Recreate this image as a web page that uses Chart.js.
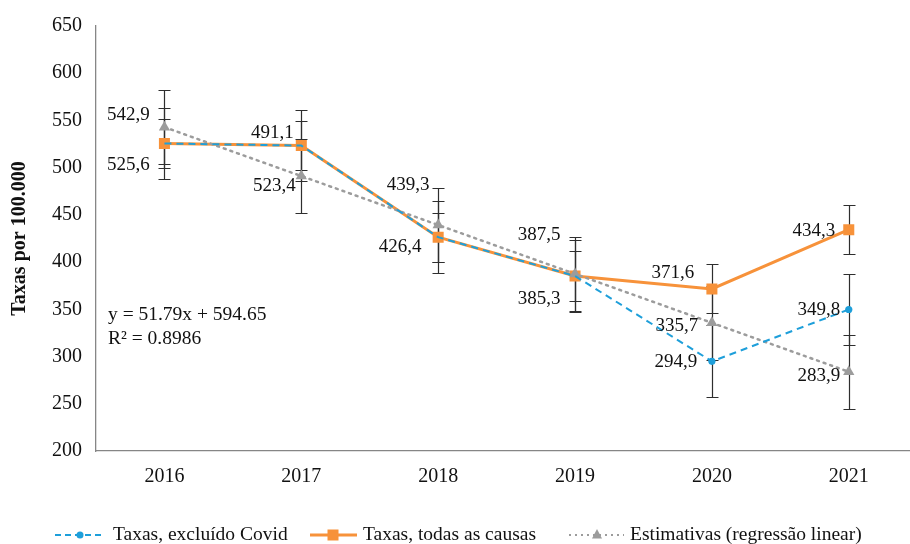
<!DOCTYPE html>
<html>
<head>
<meta charset="utf-8">
<script src="https://cdn.jsdelivr.net/npm/chart.js@4.4.1/dist/chart.umd.min.js"></script>
<style>
  html, body { margin: 0; padding: 0; background: #fff; overflow: hidden; }
  #wrap { position: relative; width: 925px; height: 544px; }
</style>
</head>
<body>
<div id="wrap"><canvas id="taxasChart"></canvas></div>
<script>
// Dados
const anos = ["2016", "2017", "2018", "2019", "2020", "2021"];
const taxasExcluidoCovid = [525.6, 523.4, 426.4, 385.3, 294.9, 349.8];
const taxasTodasCausas = [525.6, 523.4, 426.4, 385.3, 371.6, 434.3];
const estimativas = [542.9, 491.1, 439.3, 387.5, 335.7, 283.9];

// barras de erro (+/-)
const erroExcluidoCovid = [38, 38, 38, 38, 38, 38];
const erroTodasCausas = [26, 26, 26, 26, 26, 26];
const erroEstimativas = [39, 39, 39, 39, 39, 39];

const yMin = 200;
const yMax = 650;
const yPasso = 50;

const equacao = ["y = 51.79x + 594.65", "R² = 0.8986"];
const legendas = ["Taxas, excluído Covid", "Taxas, todas as causas", "Estimativas (regressão linear)"];

// deslocamentos dos rótulos (px) em relação ao ponto
const rotulosExcluidoCovid = [null, null, null, null, [-36, 1], [-30, 0]];
const rotulosTodasCausas = [[-36, 22], [-27, 40], [-38, 10], [-36, 23], [-39, -16], [-35, 1]];
const rotulosEstimativas = [[-36, -12], [-29, -43], [-30, -40], [-36, -39], [-35, 3], [-30, 4]];

const AZUL = "#1E9FDA";
const LARANJA = "#F7923A";
const CINZA = "#9C9C9C";
const FONTE = "'Liberation Serif', 'DejaVu Serif', serif";

Chart.defaults.font.family = FONTE;
Chart.defaults.color = "#111";

function formatar(v) {
  return v.toFixed(1).replace(".", ",");
}

const errorBarsPlugin = {
  id: "errorBars",
  beforeDatasetsDraw(chart) {
    const { ctx, scales: { x, y } } = chart;
    const series = [
      [taxasTodasCausas, erroTodasCausas],
      [taxasExcluidoCovid, erroExcluidoCovid],
      [estimativas, erroEstimativas]
    ];
    ctx.save();
    ctx.strokeStyle = "#2e2e2e";
    ctx.lineWidth = 1.2;
    series.forEach(([vals, errs]) => {
      vals.forEach((v, i) => {
        const px = Math.round(x.getPixelForValue(i)) + 0.5;
        const top = Math.round(y.getPixelForValue(v + errs[i])) + 0.5;
        const bot = Math.round(y.getPixelForValue(v - errs[i])) + 0.5;
        ctx.beginPath();
        ctx.moveTo(px, top);
        ctx.lineTo(px, bot);
        ctx.moveTo(px - 6, top);
        ctx.lineTo(px + 6, top);
        ctx.moveTo(px - 6, bot);
        ctx.lineTo(px + 6, bot);
        ctx.stroke();
      });
    });
    ctx.restore();
  }
};

const labelsPlugin = {
  id: "rotulos",
  afterDatasetsDraw(chart) {
    const { ctx, scales: { x, y }, chartArea } = chart;
    const grupos = [
      [taxasExcluidoCovid, rotulosExcluidoCovid],
      [taxasTodasCausas, rotulosTodasCausas],
      [estimativas, rotulosEstimativas]
    ];
    ctx.save();
    ctx.font = "19px " + FONTE;
    ctx.fillStyle = "#111";
    ctx.textAlign = "center";
    ctx.textBaseline = "middle";
    grupos.forEach(([vals, offs]) => {
      vals.forEach((v, i) => {
        if (!offs[i]) return;
        const px = x.getPixelForValue(i) + offs[i][0];
        const py = y.getPixelForValue(v) + offs[i][1];
        ctx.fillText(formatar(v), px, py);
      });
    });

    // equação da regressão
    ctx.textAlign = "left";
    ctx.font = "19.5px " + FONTE;
    ctx.fillText(equacao[0], chartArea.left + 12, chartArea.top + 289);
    ctx.fillText(equacao[1], chartArea.left + 12, chartArea.top + 313);
    ctx.restore();
  }
};

const legendPlugin = {
  id: "legendaInferior",
  afterDraw(chart) {
    const { ctx } = chart;
    const ly = 535;
    ctx.save();
    ctx.font = "19.5px " + FONTE;
    ctx.fillStyle = "#111";
    ctx.textBaseline = "middle";
    ctx.textAlign = "left";

    // 1 - excluído Covid
    ctx.strokeStyle = AZUL;
    ctx.lineWidth = 2;
    ctx.setLineDash([6, 4]);
    ctx.beginPath();
    ctx.moveTo(55, ly);
    ctx.lineTo(104, ly);
    ctx.stroke();
    ctx.setLineDash([]);
    ctx.fillStyle = AZUL;
    ctx.beginPath();
    ctx.arc(80, ly, 3.5, 0, Math.PI * 2);
    ctx.fill();
    ctx.fillStyle = "#111";
    ctx.fillText(legendas[0], 113, ly);

    // 2 - todas as causas
    ctx.strokeStyle = LARANJA;
    ctx.lineWidth = 3;
    ctx.beginPath();
    ctx.moveTo(310, ly);
    ctx.lineTo(357, ly);
    ctx.stroke();
    ctx.fillStyle = LARANJA;
    ctx.fillRect(333 - 5.5, ly - 5.5, 11, 11);
    ctx.fillStyle = "#111";
    ctx.fillText(legendas[1], 363, ly);

    // 3 - estimativas
    ctx.strokeStyle = CINZA;
    ctx.lineWidth = 2;
    ctx.setLineDash([2, 4]);
    ctx.beginPath();
    ctx.moveTo(569, ly);
    ctx.lineTo(624, ly);
    ctx.stroke();
    ctx.setLineDash([]);
    ctx.fillStyle = CINZA;
    ctx.beginPath();
    ctx.moveTo(597, ly - 6);
    ctx.lineTo(602, ly + 3.5);
    ctx.lineTo(592, ly + 3.5);
    ctx.closePath();
    ctx.fill();
    ctx.fillStyle = "#111";
    ctx.fillText(legendas[2], 630, ly);
    ctx.restore();
  }
};

new Chart(document.getElementById("taxasChart"), {
  type: "line",
  data: {
    labels: anos,
    datasets: [
      {
        label: legendas[0],
        data: taxasExcluidoCovid,
        borderColor: AZUL,
        backgroundColor: AZUL,
        borderWidth: 2,
        borderDash: [7, 5],
        pointStyle: "circle",
        pointRadius: [0, 0, 0, 0, 3.6, 3.6],
        pointBorderWidth: 0,
        tension: 0,
        order: 0
      },
      {
        label: legendas[2],
        data: estimativas,
        borderColor: CINZA,
        backgroundColor: CINZA,
        borderWidth: 2.5,
        borderDash: [2, 5],
        borderCapStyle: "round",
        pointStyle: "triangle",
        pointRadius: 6.5,
        pointBorderWidth: 0,
        tension: 0,
        order: 1
      },
      {
        label: legendas[1],
        data: taxasTodasCausas,
        borderColor: LARANJA,
        backgroundColor: LARANJA,
        borderWidth: 3,
        pointStyle: "rect",
        pointRadius: 7.8,
        pointBorderWidth: 0,
        tension: 0,
        order: 2
      }
    ]
  },
  options: {
    responsive: true,
    maintainAspectRatio: false,
    animation: false,
    layout: { padding: { top: 20, right: 0, bottom: 0, left: 0 } },
    plugins: {
      legend: { display: false },
      tooltip: { enabled: false }
    },
    scales: {
      x: {
        offset: true,
        grid: { display: false, drawTicks: false },
        border: { display: true, color: "#868686", width: 1.3 },
        ticks: { color: "#111", padding: 14, font: { size: 20 } },
        afterFit(axis) { axis.height = 93; }
      },
      y: {
        min: yMin,
        max: yMax,
        grid: { display: false, drawTicks: false },
        border: { display: true, color: "#868686", width: 1.3 },
        ticks: { stepSize: yPasso, color: "#111", padding: 14, font: { size: 20 } },
        title: {
          display: true,
          text: "Taxas por 100.000",
          color: "#111",
          font: { size: 20, weight: "bold" },
          padding: { top: 8, bottom: 0 }
        },
        afterFit(axis) { axis.width = 96; }
      }
    }
  },
  plugins: [errorBarsPlugin, labelsPlugin, legendPlugin]
});
</script>
</body>
</html>
